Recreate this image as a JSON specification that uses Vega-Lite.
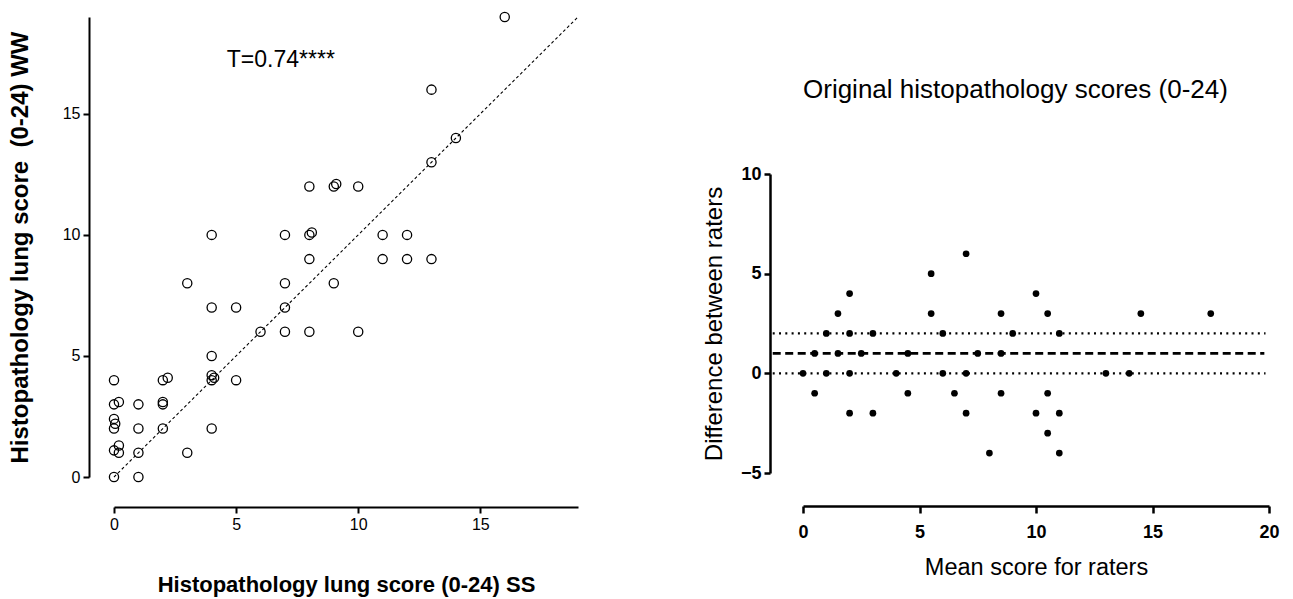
{
  "$schema": "https://vega.github.io/schema/vega-lite/v6.json",
  "background": "white",
  "padding": {"left": 8, "top": 9, "right": 5, "bottom": 5},
  "config": {
    "view": {"stroke": null},
    "font": "Liberation Sans",
    "axis": {"grid": false, "domainColor": "black", "domainWidth": 2, "tickColor": "black", "tickWidth": 2, "tickSize": 6, "labelColor": "black", "titleColor": "black", "labelPadding": 3, "labelFlush": false}
  },
  "datasets": {
    "agreement": [
      {"x": 0, "y": 0}, {"x": 1, "y": 0},
      {"x": 0, "y": 1.1}, {"x": 0.2, "y": 1}, {"x": 0.2, "y": 1.3}, {"x": 1, "y": 1}, {"x": 3, "y": 1},
      {"x": 0, "y": 2}, {"x": 0.05, "y": 2.2}, {"x": 0, "y": 2.4}, {"x": 1, "y": 2}, {"x": 2, "y": 2}, {"x": 4, "y": 2},
      {"x": 0, "y": 3}, {"x": 0.2, "y": 3.1}, {"x": 1, "y": 3}, {"x": 2, "y": 3}, {"x": 2, "y": 3.1},
      {"x": 0, "y": 4}, {"x": 2, "y": 4}, {"x": 2.2, "y": 4.1}, {"x": 4, "y": 4}, {"x": 4, "y": 4.2}, {"x": 4.1, "y": 4.1}, {"x": 5, "y": 4},
      {"x": 4, "y": 5},
      {"x": 6, "y": 6}, {"x": 7, "y": 6}, {"x": 8, "y": 6}, {"x": 10, "y": 6},
      {"x": 4, "y": 7}, {"x": 5, "y": 7}, {"x": 7, "y": 7},
      {"x": 3, "y": 8}, {"x": 7, "y": 8}, {"x": 9, "y": 8},
      {"x": 8, "y": 9}, {"x": 11, "y": 9}, {"x": 12, "y": 9}, {"x": 13, "y": 9},
      {"x": 4, "y": 10}, {"x": 7, "y": 10}, {"x": 8, "y": 10}, {"x": 8.1, "y": 10.1}, {"x": 11, "y": 10}, {"x": 12, "y": 10},
      {"x": 8, "y": 12}, {"x": 9, "y": 12}, {"x": 9.1, "y": 12.1}, {"x": 10, "y": 12},
      {"x": 13, "y": 13}, {"x": 14, "y": 14}, {"x": 13, "y": 16}, {"x": 16, "y": 19}
    ],
    "identity": [{"x": 0, "y": 0}, {"x": 19, "y": 19}],
    "annotation": [{"x": 4.62, "y": 16.95, "label": "T=0.74****"}],
    "blandaltman": [
      {"mean": 7, "diff": 6}, {"mean": 5.5, "diff": 5}, {"mean": 2, "diff": 4}, {"mean": 10, "diff": 4},
      {"mean": 1.5, "diff": 3}, {"mean": 5.5, "diff": 3}, {"mean": 8.5, "diff": 3}, {"mean": 10.5, "diff": 3}, {"mean": 14.5, "diff": 3}, {"mean": 17.5, "diff": 3},
      {"mean": 1, "diff": 2}, {"mean": 2, "diff": 2}, {"mean": 3, "diff": 2}, {"mean": 6, "diff": 2}, {"mean": 9, "diff": 2}, {"mean": 11, "diff": 2},
      {"mean": 0.5, "diff": 1}, {"mean": 1.5, "diff": 1}, {"mean": 2.5, "diff": 1}, {"mean": 4.5, "diff": 1}, {"mean": 7.5, "diff": 1}, {"mean": 8.5, "diff": 1},
      {"mean": 0, "diff": 0}, {"mean": 1, "diff": 0}, {"mean": 2, "diff": 0}, {"mean": 4, "diff": 0}, {"mean": 6, "diff": 0}, {"mean": 7, "diff": 0}, {"mean": 13, "diff": 0}, {"mean": 14, "diff": 0},
      {"mean": 0.5, "diff": -1}, {"mean": 4.5, "diff": -1}, {"mean": 6.5, "diff": -1}, {"mean": 8.5, "diff": -1}, {"mean": 10.5, "diff": -1},
      {"mean": 2, "diff": -2}, {"mean": 3, "diff": -2}, {"mean": 7, "diff": -2}, {"mean": 10, "diff": -2}, {"mean": 11, "diff": -2},
      {"mean": 10.5, "diff": -3},
      {"mean": 8, "diff": -4}, {"mean": 11, "diff": -4}
    ],
    "bias": [{"mean": -1.3, "mean_end": 19.8, "diff": 1}],
    "limits": [{"mean": -1.3, "mean_end": 19.85, "diff": 0}, {"mean": -1.3, "mean_end": 19.85, "diff": 2}]
  },
  "hconcat": [
    {
      "width": 464,
      "height": 460,
      "layer": [
        {
          "data": {"name": "identity"},
          "mark": {"type": "line", "color": "black", "strokeWidth": 1.1, "strokeDash": [3, 2.5]},
          "encoding": {
            "x": {"field": "x", "type": "quantitative", "title": "Histopathology lung score (0-24) SS", "scale": {"domain": [0, 19], "nice": false, "zero": false},
              "axis": {"values": [0, 5, 10, 15], "offset": 30, "labelFontSize": 16, "titleFontSize": 22, "titleFontWeight": "bold", "titlePadding": 42}},
            "y": {"field": "y", "type": "quantitative", "title": "Histopathology lung score \u00a0(0-24) WW", "scale": {"domain": [0, 19], "nice": false, "zero": false},
              "axis": {"values": [0, 5, 10, 15], "offset": 25, "labelFontSize": 16, "titleFontSize": 24, "titleFontWeight": "bold", "titlePadding": 30}}
          }
        },
        {
          "data": {"name": "agreement"},
          "mark": {"type": "point", "shape": "circle", "filled": false, "color": "black", "strokeWidth": 1.3, "size": 85, "opacity": 1},
          "encoding": {
            "x": {"field": "x", "type": "quantitative", "title": "Histopathology lung score (0-24) SS"},
            "y": {"field": "y", "type": "quantitative", "title": "Histopathology lung score \u00a0(0-24) WW"}
          }
        },
        {
          "data": {"name": "annotation"},
          "mark": {"type": "text", "align": "left", "baseline": "alphabetic", "fontSize": 23, "color": "black"},
          "encoding": {
            "x": {"field": "x", "type": "quantitative", "title": "Histopathology lung score (0-24) SS"},
            "y": {"field": "y", "type": "quantitative", "title": "Histopathology lung score \u00a0(0-24) WW"},
            "text": {"field": "label"}
          }
        }
      ]
    },
    {
      "spacing": 20,
      "vconcat": [
        {"width": 466, "height": 40, "data": {"values": []}, "mark": "point"},
        {
          "width": 466,
          "height": 299,
          "title": {"text": "Original histopathology scores (0-24)", "fontSize": 26, "fontWeight": "normal", "color": "black", "anchor": "start", "frame": "group", "offset": 62},
          "layer": [
            {
              "data": {"name": "limits"},
              "mark": {"type": "rule", "color": "black", "strokeWidth": 2.2, "strokeDash": [2, 4.3]},
              "encoding": {
                "x": {"field": "mean", "type": "quantitative", "title": "Mean score for raters", "scale": {"domain": [0, 20], "nice": false, "zero": false},
                  "axis": {"values": [0, 5, 10, 15, 20], "offset": 33, "labelFontSize": 18, "labelFontWeight": "bold", "labelPadding": 10, "titleFontSize": 23.5, "titleFontWeight": "normal", "titlePadding": 14, "domainWidth": 2.5, "tickWidth": 2.5, "tickSize": 7}},
                "x2": {"field": "mean_end"},
                "y": {"field": "diff", "type": "quantitative", "title": "Difference between raters", "scale": {"domain": [-5, 10], "nice": false, "zero": false},
                  "axis": {"values": [-5, 0, 5, 10], "offset": 33, "labelFontSize": 18, "labelFontWeight": "bold", "labelPadding": 3, "titleFontSize": 24, "titleFontWeight": "normal", "titlePadding": 14, "domainWidth": 2.5, "tickWidth": 2.5, "tickSize": 6}}
              }
            },
            {
              "data": {"name": "bias"},
              "mark": {"type": "rule", "color": "black", "strokeWidth": 2.7, "strokeDash": [8, 4.5]},
              "encoding": {
                "x": {"field": "mean", "type": "quantitative", "title": "Mean score for raters"},
                "x2": {"field": "mean_end"},
                "y": {"field": "diff", "type": "quantitative", "title": "Difference between raters"}
              }
            },
            {
              "data": {"name": "blandaltman"},
              "mark": {"type": "circle", "color": "black", "size": 45, "opacity": 1},
              "encoding": {
                "x": {"field": "mean", "type": "quantitative", "title": "Mean score for raters"},
                "y": {"field": "diff", "type": "quantitative", "title": "Difference between raters"}
              }
            }
          ]
        }
      ]
    }
  ],
  "spacing": 121
}
